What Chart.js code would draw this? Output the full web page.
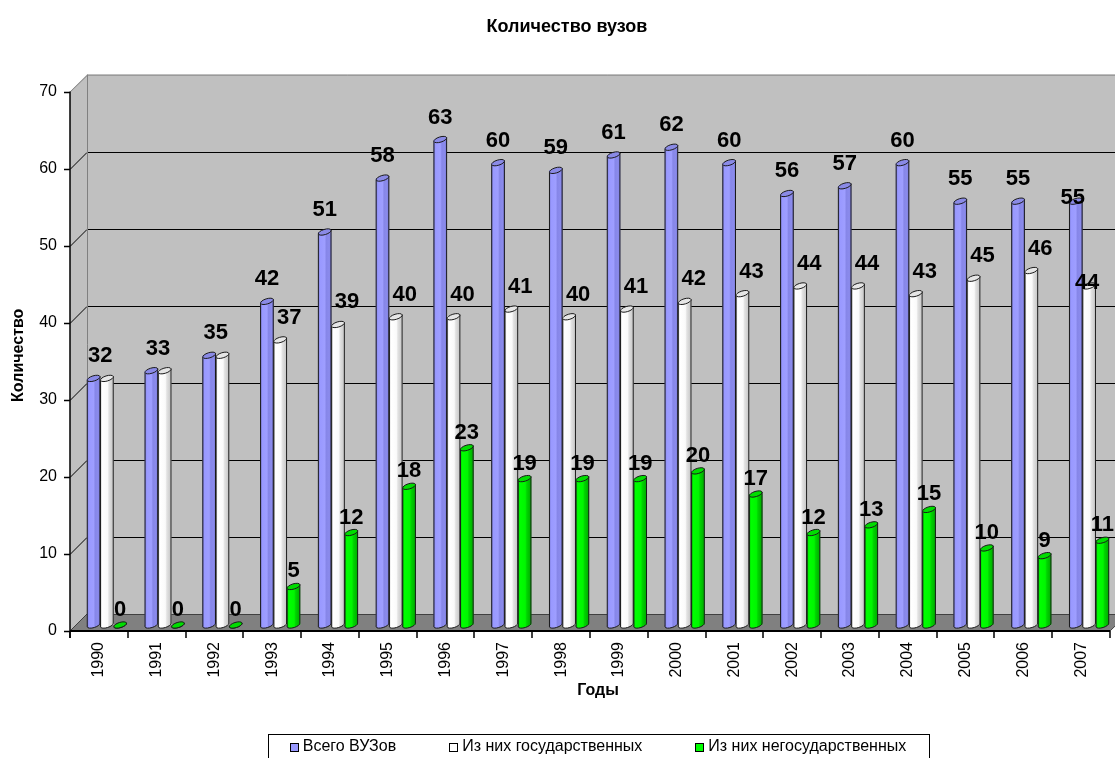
<!DOCTYPE html>
<html>
<head>
<meta charset="utf-8">
<script src="https://cdn.jsdelivr.net/npm/chart.js@4.4.1/dist/chart.umd.min.js"></script>
<style>
  html, body { margin: 0; padding: 0; background: #fff; overflow: hidden; }
  #wrap { width: 1115px; height: 758px; overflow: hidden; position: relative; }
  canvas { display: block; }
</style>
</head>
<body>
<div id="wrap"><canvas id="c" width="1134" height="765"></canvas></div>
<script>
const years = ['1990','1991','1992','1993','1994','1995','1996','1997','1998','1999','2000','2001','2002','2003','2004','2005','2006','2007'];
const totalVuz = [32,33,35,42,51,58,63,60,59,61,62,60,56,57,60,55,55,55];
const stateVuz = [32,33,35,37,39,40,40,41,40,41,42,43,44,44,43,45,46,44];
const privateVuz = [0,0,0,5,12,18,23,19,19,19,20,17,12,13,15,10,9,11];
const seriesNames = ['Всего ВУЗов','Из них государственных','Из них негосударственных'];
const yTicks = [0,10,20,30,40,50,60,70];

const FONT = '"Liberation Sans", Arial, sans-serif';
const FRONT = {dx: -8, dy: 6};
const BACK = {dx: 9, dy: -11};

const styles = [
  {base: '#9999ff', top: '#8a8ae6', stops: [[0,'#7676d2'],[0.15,'#9999ff'],[0.5,'#9e9eff'],[0.62,'#8686e8'],[0.85,'#8b8bec'],[1,'#6e6ec8']], lblDx: 0, lblDy: -16},
  {base: '#ffffff', top: '#e6e6e6', stops: [[0,'#cfcfcf'],[0.15,'#ffffff'],[0.55,'#fafafa'],[0.66,'#e2e2e2'],[1,'#c4c4c4']], lblDx: 9, lblDy: -16},
  {base: '#00ff00', top: '#00dc00', stops: [[0,'#00c000'],[0.15,'#00ff00'],[0.55,'#00f600'],[0.66,'#00d400'],[1,'#00a800']], lblDx: 0, lblDy: -9}
];

const frame3d = {
  id: 'frame3d',
  beforeDatasetsDraw(chart) {
    const {ctx, chartArea: a, scales} = chart;
    const y = scales.y;
    const L = a.left, R = a.right;
    const y0 = y.getPixelForValue(y.min), yT = y.getPixelForValue(y.max);
    ctx.save();
    ctx.fillStyle = '#c0c0c0';
    ctx.beginPath();
    ctx.moveTo(L + FRONT.dx, yT + FRONT.dy);
    ctx.lineTo(L + BACK.dx, yT + BACK.dy);
    ctx.lineTo(L + BACK.dx, y0 + BACK.dy);
    ctx.lineTo(L + FRONT.dx, y0 + FRONT.dy);
    ctx.closePath();
    ctx.fill();
    ctx.fillRect(L + BACK.dx, yT + BACK.dy, R - L, y0 - yT);
    ctx.fillStyle = '#808080';
    ctx.beginPath();
    ctx.moveTo(L + FRONT.dx, y0 + FRONT.dy);
    ctx.lineTo(R + FRONT.dx, y0 + FRONT.dy);
    ctx.lineTo(R + BACK.dx, y0 + BACK.dy);
    ctx.lineTo(L + BACK.dx, y0 + BACK.dy);
    ctx.closePath();
    ctx.fill();
    ctx.strokeStyle = '#000';
    ctx.lineWidth = 1;
    yTicks.forEach(v => {
      if (v === y.min || v === y.max) return;
      const p = Math.round(y.getPixelForValue(v)) + 0.5;
      ctx.beginPath();
      ctx.moveTo(L + FRONT.dx, p + FRONT.dy);
      ctx.lineTo(L + BACK.dx, p + BACK.dy);
      ctx.lineTo(R + BACK.dx, p + BACK.dy);
      ctx.stroke();
    });
    ctx.strokeStyle = '#808080';
    ctx.beginPath();
    ctx.moveTo(L + FRONT.dx, yT + FRONT.dy + 0.5);
    ctx.lineTo(L + BACK.dx + 0.5, yT + BACK.dy + 0.5);
    ctx.lineTo(R + BACK.dx, yT + BACK.dy + 0.5);
    ctx.moveTo(L + BACK.dx + 0.5, yT + BACK.dy);
    ctx.lineTo(L + BACK.dx + 0.5, y0 + BACK.dy);
    ctx.stroke();
    ctx.strokeStyle = '#404040';
    ctx.beginPath();
    ctx.moveTo(L + BACK.dx, y0 + BACK.dy + 0.5);
    ctx.lineTo(R + BACK.dx, y0 + BACK.dy + 0.5);
    ctx.lineTo(R + FRONT.dx, y0 + FRONT.dy);
    ctx.moveTo(L + FRONT.dx, y0 + FRONT.dy);
    ctx.lineTo(L + BACK.dx, y0 + BACK.dy);
    ctx.stroke();
    ctx.strokeStyle = '#000';
    ctx.lineWidth = 1.5;
    const ax = L + FRONT.dx;
    ctx.beginPath();
    ctx.moveTo(ax, yT + FRONT.dy);
    ctx.lineTo(ax, y0 + FRONT.dy + 7);
    yTicks.forEach(v => {
      const p = Math.round(y.getPixelForValue(v)) + FRONT.dy + 0.5;
      ctx.moveTo(ax - 6, p);
      ctx.lineTo(ax, p);
    });
    ctx.stroke();
    ctx.lineWidth = 2;
    ctx.beginPath();
    ctx.moveTo(ax, y0 + FRONT.dy);
    ctx.lineTo(R + FRONT.dx, y0 + FRONT.dy);
    ctx.stroke();
    ctx.lineWidth = 1.5;
    ctx.beginPath();
    const n = years.length;
    for (let i = 0; i <= n; i++) {
      const px = Math.round(L + (R - L) * i / n + FRONT.dx);
      ctx.moveTo(px, y0 + FRONT.dy);
      ctx.lineTo(px, y0 + FRONT.dy + 7);
    }
    ctx.stroke();
    ctx.restore();
  },
  afterDatasetsDraw(chart) {
    const {ctx} = chart;
    const metas = [0,1,2].map(i => chart.getDatasetMeta(i));
    const rot = -0.3;
    const c = Math.cos(rot), s = Math.sin(rot);
    const ry = 2.6;
    ctx.save();
    ctx.beginPath();
    ctx.rect(0, 0, chart.width, chart.chartArea.bottom + 6);
    ctx.clip();
    for (let j = 0; j < years.length; j++) {
      metas.forEach((meta, k) => {
        const el = meta.data[j];
        const st = styles[k];
        const cx = el.x, top = el.y, base = el.base;
        const rx = el.width / 2;
        const g = ctx.createLinearGradient(cx - rx, 0, cx + rx, 0);
        st.stops.forEach(([o, col]) => g.addColorStop(o, col));
        ctx.fillStyle = g;
        ctx.strokeStyle = '#1a1a1a';
        ctx.lineWidth = 1;
        ctx.beginPath();
        ctx.moveTo(cx + rx * c, top + rx * s);
        ctx.lineTo(cx + rx * c, base + rx * s);
        ctx.ellipse(cx, base, rx, ry, rot, 0, Math.PI, false);
        ctx.lineTo(cx - rx * c, top - rx * s);
        ctx.closePath();
        ctx.fill();
        ctx.stroke();
        ctx.beginPath();
        ctx.ellipse(cx, top, rx, ry, rot, 0, Math.PI * 2);
        ctx.fillStyle = st.top;
        ctx.fill();
        ctx.stroke();
      });
    }
    ctx.restore();
    ctx.save();
    ctx.font = 'bold 22px ' + FONT;
    ctx.fillStyle = '#000';
    ctx.textAlign = 'center';
    ctx.textBaseline = 'alphabetic';
    const last = years.length - 1;
    for (let j = 0; j < years.length; j++) {
      metas.forEach((meta, k) => {
        const el = meta.data[j];
        const ds = chart.data.datasets[k];
        const v = ds.data[j];
        const st = styles[k];
        let dx = st.lblDx, dy = st.lblDy;
        if (k === 1 && v === chart.data.datasets[0].data[j]) return;
        if (k === 0 && v === chart.data.datasets[1].data[j]) {
          dx = (metas[1].data[j].x - el.x) / 2;
        }
        if (j === last && k < 2) { dy += 19; dx = k === 0 ? -3 : -2; }
        ctx.fillText(String(v), el.x + dx, el.y + dy);
      });
    }
    ctx.restore();
  },
  afterDraw(chart) {
    const {ctx} = chart;
    const lg = chart.legend;
    if (!lg || !lg.legendHitBoxes || !lg.legendHitBoxes.length) return;
    const bw = lg.options.labels.boxWidth;
    ctx.save();
    const hb = lg.legendHitBoxes;
    const cy = hb[0].top + hb[0].height / 2;
    hb.forEach((h, i) => {
      const sx = Math.round(h.left + bw - 5) + 0.5;
      const sy = Math.round(cy - 4) + 0.5;
      ctx.fillStyle = styles[i].base;
      ctx.fillRect(sx, sy, 8, 8);
      ctx.strokeStyle = '#000';
      ctx.lineWidth = 1;
      ctx.strokeRect(sx, sy, 8, 8);
    });
    const bl = Math.round(hb[0].left + bw - 5 - 22) + 0.5;
    const lastH = hb[hb.length - 1];
    const br = Math.round(lastH.left + lastH.width + 23) + 0.5;
    const bt = Math.round(cy - 13) + 0.5;
    ctx.strokeStyle = '#000';
    ctx.strokeRect(bl, bt, br - bl, 60);
    ctx.restore();
  }
};

const chart = new Chart(document.getElementById('c'), {
  type: 'bar',
  data: {
    labels: years,
    datasets: [
      {label: seriesNames[0], data: totalVuz, backgroundColor: styles[0].base, yAxisID: 'y'},
      {label: seriesNames[1], data: stateVuz, backgroundColor: styles[1].base, yAxisID: 'y'},
      {label: seriesNames[2], data: privateVuz, backgroundColor: styles[2].base, yAxisID: 'y'}
    ]
  },
  options: {
    responsive: false,
    animation: false,
    devicePixelRatio: 1,
    layout: {padding: 0},
    datasets: {bar: {categoryPercentage: 0.69, barPercentage: 1.0}},
    plugins: {
      title: {
        display: true,
        text: 'Количество вузов',
        color: '#000',
        font: {family: FONT, size: 18, weight: 'bold'},
        padding: {top: 16, bottom: 48}
      },
      legend: {
        position: 'bottom',
        fullSize: false,
        labels: {
          color: '#000',
          font: {family: FONT, size: 16},
          boxWidth: 5,
          boxHeight: 8,
          padding: 53,
          generateLabels(chart) {
            return chart.data.datasets.map((ds, i) => ({
              text: ds.label,
              fillStyle: 'rgba(0,0,0,0)',
              strokeStyle: 'rgba(0,0,0,0)',
              lineWidth: 0,
              hidden: false,
              datasetIndex: i
            }));
          }
        }
      },
      tooltip: {enabled: false}
    },
    scales: {
      x: {
        grid: {display: false, drawTicks: false},
        border: {display: false},
        ticks: {
          color: '#000',
          font: {family: FONT, size: 16},
          minRotation: 90, maxRotation: 90,
          autoSkip: false,
          padding: 17,
          labelOffset: FRONT.dx
        },
        title: {
          display: true, text: 'Годы', color: '#000',
          font: {family: FONT, size: 16, weight: 'bold'},
          padding: {top: 0, bottom: -14}
        },
        afterFit(s) { s.height = 61; }
      },
      y: {
        position: 'left',
        min: 0, max: 70,
        grid: {display: false, drawTicks: false},
        border: {display: false},
        afterBuildTicks(s) { s.ticks = yTicks.map(v => ({value: v})); },
        ticks: {
          color: '#000',
          font: {family: FONT, size: 16},
          padding: 21,
          labelOffset: FRONT.dy
        },
        title: {
          display: true, text: 'Количество', color: '#000',
          font: {family: FONT, size: 16, weight: 'bold'},
          padding: {top: 9, bottom: 0}
        },
        afterFit(s) { s.width = 78; }
      },
      yr: {
        position: 'right',
        display: true,
        min: 0, max: 70,
        grid: {display: false, drawTicks: false},
        border: {display: false},
        ticks: {display: false},
        afterFit(s) { s.width = 16; }
      }
    }
  },
  plugins: [frame3d]
});
</script>
</body>
</html>
